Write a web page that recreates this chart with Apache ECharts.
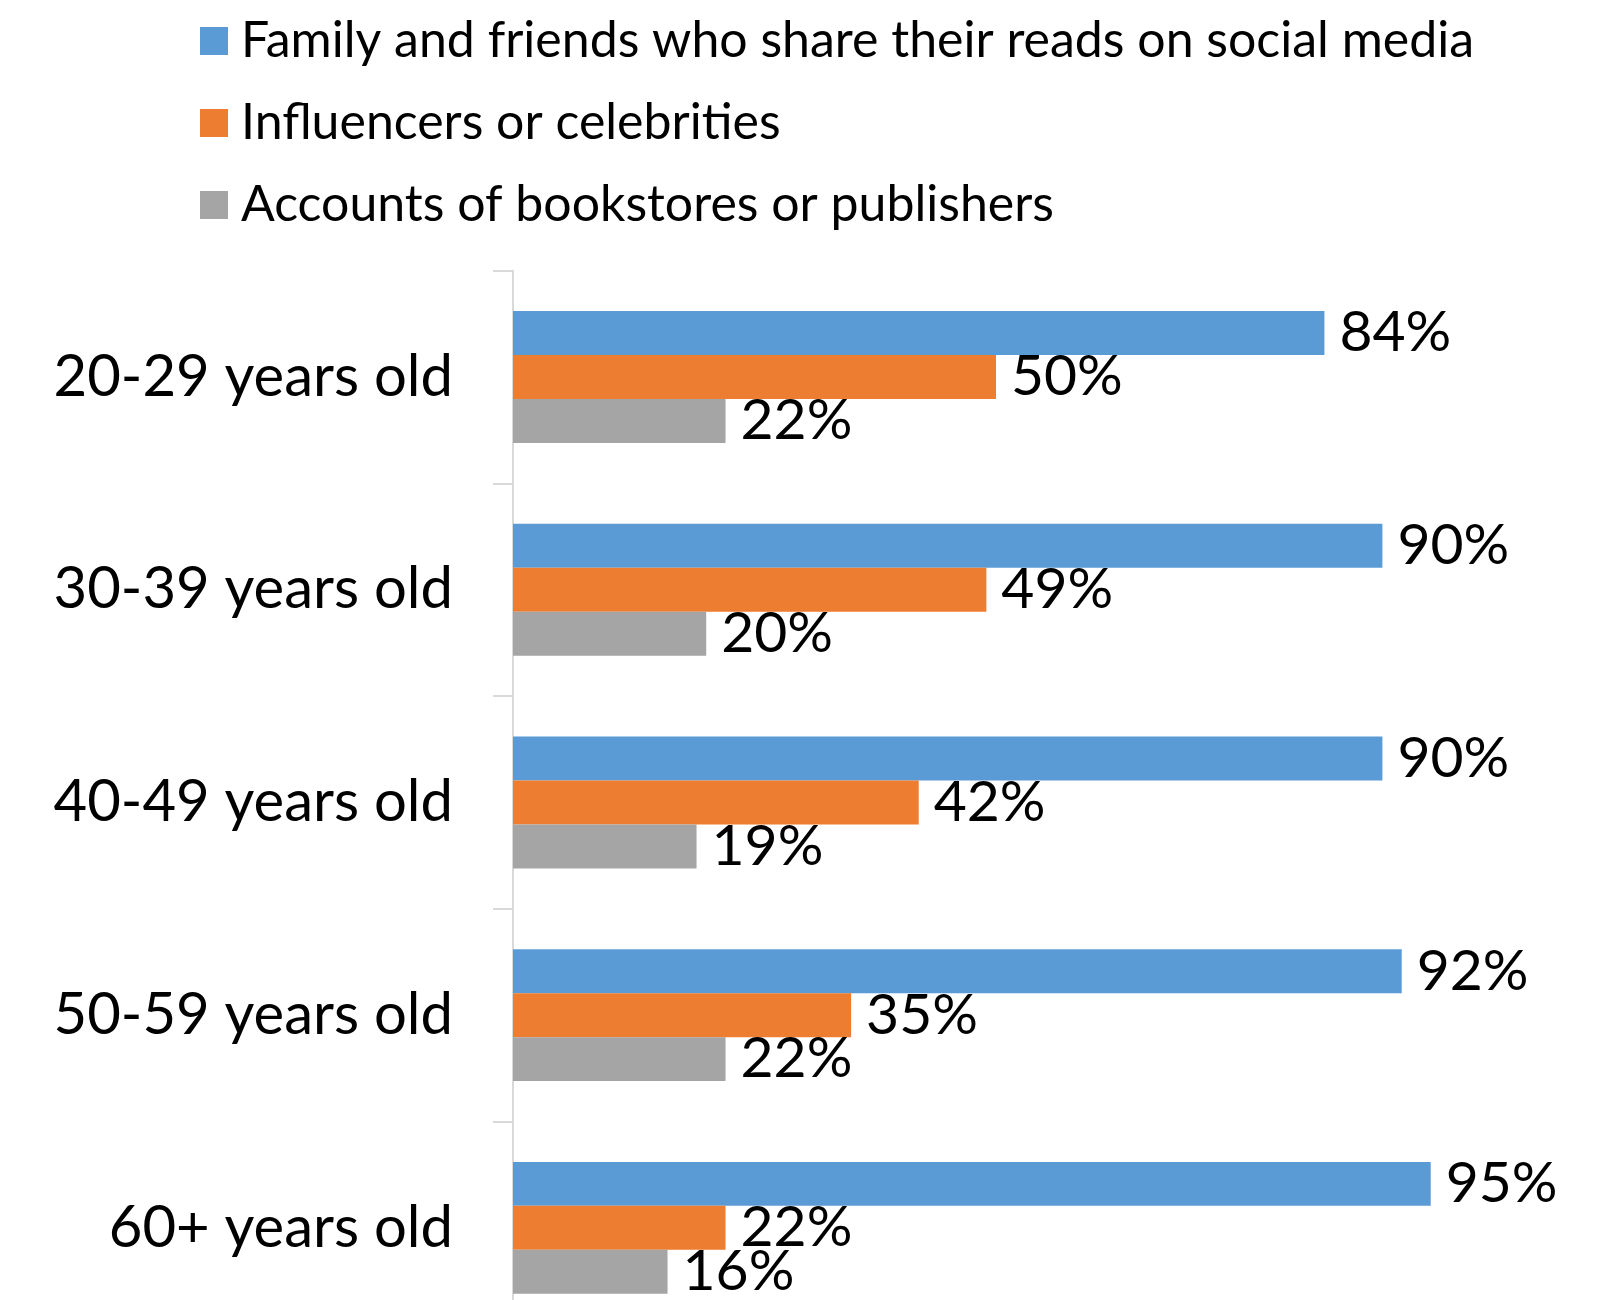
<!DOCTYPE html>
<html>
<head>
<meta charset="utf-8">
<script src="https://cdn.jsdelivr.net/npm/echarts@6/dist/echarts.min.js"></script>
<style>
html,body{margin:0;padding:0;background:#fff;overflow:hidden;width:1610px;height:1300px;}
#chart{width:1610px;height:1400px;}
</style>
</head>
<body>
<div id="chart"></div>
<script>
const categories = ['20-29 years old', '30-39 years old', '40-49 years old', '50-59 years old', '60+ years old'];
const seriesNames = ['Family and friends who share their reads on social media', 'Influencers or celebrities', 'Accounts of bookstores or publishers'];
const familyFriends = [84, 90, 90, 92, 95];
const influencers = [50, 49, 42, 35, 22];
const bookstores = [22, 20, 19, 22, 16];
const colors = ['#5B9BD5', '#ED7D31', '#A5A5A5'];

const FONT = 'Lato';
const chart = echarts.init(document.getElementById('chart'), null, {renderer: 'canvas'});

function barSeries(name, data, color) {
  return {
    name: name,
    type: 'bar',
    data: data,
    barGap: '0%',
    barCategoryGap: '38%',
    itemStyle: {color: color},
    label: {
      show: true,
      position: 'right',
      distance: 15,
      formatter: '{c}%',
      color: '#000',
      fontFamily: FONT,
      fontSize: 57
    },
    animation: false
  };
}

chart.setOption({
  animation: false,
  legend: {
    orient: 'vertical',
    left: 195,
    top: 6,
    itemWidth: 28,
    itemHeight: 28,
    itemGap: 22,
    icon: 'rect',
    textStyle: {fontFamily: FONT, fontSize: 50, color: '#000', lineHeight: 60, padding: [0, 0, 0, 8]},
    data: seriesNames
  },
  grid: {left: 513, top: 270.7, width: 966, height: 1063.5, containLabel: false},
  xAxis: {
    type: 'value', min: 0, max: 100, show: false
  },
  yAxis: {
    type: 'category',
    data: categories,
    inverse: true,
    axisLine: {show: true, lineStyle: {color: '#D9D9D9', width: 2}},
    axisTick: {show: true, length: 20, lineStyle: {color: '#D9D9D9', width: 2}},
    axisLabel: {fontFamily: FONT, fontSize: 58, color: '#000', margin: 60}
  },
  series: [
    barSeries(seriesNames[0], familyFriends, colors[0]),
    barSeries(seriesNames[1], influencers, colors[1]),
    barSeries(seriesNames[2], bookstores, colors[2])
  ]
});
</script>
</body>
</html>
